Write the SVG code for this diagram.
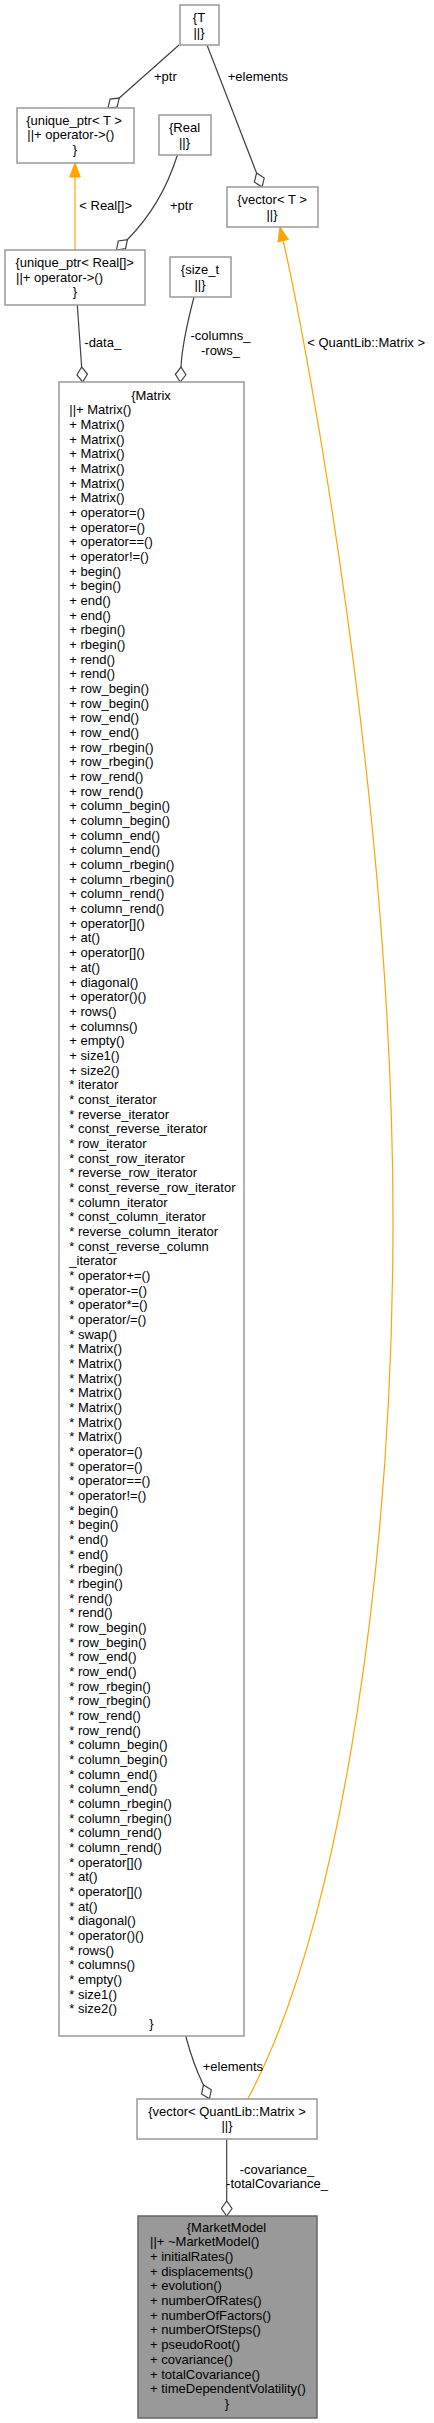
<svg xmlns="http://www.w3.org/2000/svg" width="434" height="2423" viewBox="0 0 434 2423">
<style>
text{font-family:"Liberation Sans",Arial,Helvetica,sans-serif;font-size:13px;fill:#000}
.m{text-anchor:middle}
.box{fill:#fff;stroke:#999;stroke-width:1.5}
.main{fill:#999;stroke:#666;stroke-width:1.5}
.e{fill:none;stroke:#404040;stroke-width:1.2}
.o{fill:none;stroke:#ffa500;stroke-width:1.2}
</style>
<defs>
<marker id="dia" viewBox="-16 -6 17 12" markerWidth="17" markerHeight="12" refX="0" refY="0" orient="auto" markerUnits="userSpaceOnUse" overflow="visible">
<path d="M0,0 L-7.5,-5.3 L-15,0 L-7.5,5.3 Z" fill="#fff" stroke="#404040" stroke-width="1.2"/>
</marker>
<marker id="arr" viewBox="-15 -6 16 12" markerWidth="16" markerHeight="12" refX="0" refY="0" orient="auto" markerUnits="userSpaceOnUse" overflow="visible">
<path d="M0,0 L-14,-5.3 L-14,5.3 Z" fill="#ffa500" stroke="#ffa500" stroke-width="1"/>
</marker>
</defs>

<g id="connectors">
<path class="e" d="M179,45 L108,108" marker-end="url(#dia)"/>
<text x="154" y="80.5">+ptr</text>
<path class="e" d="M207.3,45.7 L262,187" marker-end="url(#dia)"/>
<text x="227.7" y="80.5">+elements</text>
<path class="o" d="M75,250 L75,163" marker-end="url(#arr)"/>
<text x="79.3" y="210">&lt; Real[]&gt;</text>
<path class="e" d="M177.3,155.3 C168,185 152,215 127,240 L116.5,250" marker-end="url(#dia)"/>
<text x="170" y="210">+ptr</text>
<path class="e" d="M77.3,305 L82.7,382" marker-end="url(#dia)"/>
<text x="84.3" y="347">-data_</text>
<path class="e" d="M194,297 C188,320 182,345 181,367 L180.3,382" marker-end="url(#dia)"/>
<text class="m" x="220.5" y="339.5">-columns_</text>
<text class="m" x="220.5" y="355">-rows_</text>
<path class="o" d="M248.3,2098 C345,1915 393,1550 393,1220 C393,800 305,335 283,240 L280,227" marker-end="url(#arr)"/>
<text x="307.3" y="347">&lt; QuantLib::Matrix &gt;</text>
<path class="e" d="M185.7,2036 C190,2052 196,2070 203,2084 L209.5,2098.7" marker-end="url(#dia)"/>
<text x="202.7" y="2070.5">+elements</text>
<path class="e" d="M226.7,2139 L226.7,2216" marker-end="url(#dia)"/>
<text class="m" x="277" y="2173.5">-covariance_</text>
<text class="m" x="277" y="2188">-totalCovariance_</text>
</g>

<g id="node-T">
<rect class="box" x="180" y="5" width="39" height="40"/>
<text class="m" x="199" y="22">{T</text>
<text class="m" x="199" y="36.7">||}</text>
</g>

<g id="node-unique_ptr-T">
<rect class="box" x="17" y="108" width="117" height="55"/>
<text class="m" x="74" y="124.5">{unique_ptr&lt; T &gt;</text>
<text x="27.3" y="139.2">||+ operator-&gt;()</text>
<text class="m" x="75" y="153.8">}</text>
</g>

<g id="node-Real">
<rect class="box" x="159" y="115" width="52" height="40"/>
<text class="m" x="184.5" y="132">{Real</text>
<text class="m" x="184.5" y="146.7">||}</text>
</g>

<g id="node-vector-T">
<rect class="box" x="227" y="187" width="91" height="40"/>
<text class="m" x="272" y="204">{vector&lt; T &gt;</text>
<text class="m" x="272" y="218.7">||}</text>
</g>

<g id="node-unique_ptr-Real">
<rect class="box" x="5" y="250" width="140" height="55"/>
<text class="m" x="74.7" y="267">{unique_ptr&lt; Real[]&gt;</text>
<text x="16" y="281.5">||+ operator-&gt;()</text>
<text class="m" x="75" y="296">}</text>
</g>

<g id="node-size_t">
<rect class="box" x="170" y="257" width="61" height="40"/>
<text class="m" x="200" y="274">{size_t</text>
<text class="m" x="200" y="288.7">||}</text>
</g>

<g id="node-Matrix">
<rect class="box" x="59" y="382" width="185" height="1654"/>
<text class="m" x="151" y="399.7">{Matrix</text>
<text x="69.3" y="399.7">
<tspan x="69.3" dy="14.67">||+ Matrix()</tspan>
<tspan x="69.3" dy="14.67">+ Matrix()</tspan>
<tspan x="69.3" dy="14.67">+ Matrix()</tspan>
<tspan x="69.3" dy="14.67">+ Matrix()</tspan>
<tspan x="69.3" dy="14.67">+ Matrix()</tspan>
<tspan x="69.3" dy="14.67">+ Matrix()</tspan>
<tspan x="69.3" dy="14.67">+ Matrix()</tspan>
<tspan x="69.3" dy="14.67">+ operator=()</tspan>
<tspan x="69.3" dy="14.67">+ operator=()</tspan>
<tspan x="69.3" dy="14.67">+ operator==()</tspan>
<tspan x="69.3" dy="14.67">+ operator!=()</tspan>
<tspan x="69.3" dy="14.67">+ begin()</tspan>
<tspan x="69.3" dy="14.67">+ begin()</tspan>
<tspan x="69.3" dy="14.67">+ end()</tspan>
<tspan x="69.3" dy="14.67">+ end()</tspan>
<tspan x="69.3" dy="14.67">+ rbegin()</tspan>
<tspan x="69.3" dy="14.67">+ rbegin()</tspan>
<tspan x="69.3" dy="14.67">+ rend()</tspan>
<tspan x="69.3" dy="14.67">+ rend()</tspan>
<tspan x="69.3" dy="14.67">+ row_begin()</tspan>
<tspan x="69.3" dy="14.67">+ row_begin()</tspan>
<tspan x="69.3" dy="14.67">+ row_end()</tspan>
<tspan x="69.3" dy="14.67">+ row_end()</tspan>
<tspan x="69.3" dy="14.67">+ row_rbegin()</tspan>
<tspan x="69.3" dy="14.67">+ row_rbegin()</tspan>
<tspan x="69.3" dy="14.67">+ row_rend()</tspan>
<tspan x="69.3" dy="14.67">+ row_rend()</tspan>
<tspan x="69.3" dy="14.67">+ column_begin()</tspan>
<tspan x="69.3" dy="14.67">+ column_begin()</tspan>
<tspan x="69.3" dy="14.67">+ column_end()</tspan>
<tspan x="69.3" dy="14.67">+ column_end()</tspan>
<tspan x="69.3" dy="14.67">+ column_rbegin()</tspan>
<tspan x="69.3" dy="14.67">+ column_rbegin()</tspan>
<tspan x="69.3" dy="14.67">+ column_rend()</tspan>
<tspan x="69.3" dy="14.67">+ column_rend()</tspan>
<tspan x="69.3" dy="14.67">+ operator[]()</tspan>
<tspan x="69.3" dy="14.67">+ at()</tspan>
<tspan x="69.3" dy="14.67">+ operator[]()</tspan>
<tspan x="69.3" dy="14.67">+ at()</tspan>
<tspan x="69.3" dy="14.67">+ diagonal()</tspan>
<tspan x="69.3" dy="14.67">+ operator()()</tspan>
<tspan x="69.3" dy="14.67">+ rows()</tspan>
<tspan x="69.3" dy="14.67">+ columns()</tspan>
<tspan x="69.3" dy="14.67">+ empty()</tspan>
<tspan x="69.3" dy="14.67">+ size1()</tspan>
<tspan x="69.3" dy="14.67">+ size2()</tspan>
<tspan x="69.3" dy="14.67">* iterator</tspan>
<tspan x="69.3" dy="14.67">* const_iterator</tspan>
<tspan x="69.3" dy="14.67">* reverse_iterator</tspan>
<tspan x="69.3" dy="14.67">* const_reverse_iterator</tspan>
<tspan x="69.3" dy="14.67">* row_iterator</tspan>
<tspan x="69.3" dy="14.67">* const_row_iterator</tspan>
<tspan x="69.3" dy="14.67">* reverse_row_iterator</tspan>
<tspan x="69.3" dy="14.67">* const_reverse_row_iterator</tspan>
<tspan x="69.3" dy="14.67">* column_iterator</tspan>
<tspan x="69.3" dy="14.67">* const_column_iterator</tspan>
<tspan x="69.3" dy="14.67">* reverse_column_iterator</tspan>
<tspan x="69.3" dy="14.67">* const_reverse_column</tspan>
<tspan x="69.3" dy="14.67">_iterator</tspan>
<tspan x="69.3" dy="14.67">* operator+=()</tspan>
<tspan x="69.3" dy="14.67">* operator-=()</tspan>
<tspan x="69.3" dy="14.67">* operator*=()</tspan>
<tspan x="69.3" dy="14.67">* operator/=()</tspan>
<tspan x="69.3" dy="14.67">* swap()</tspan>
<tspan x="69.3" dy="14.67">* Matrix()</tspan>
<tspan x="69.3" dy="14.67">* Matrix()</tspan>
<tspan x="69.3" dy="14.67">* Matrix()</tspan>
<tspan x="69.3" dy="14.67">* Matrix()</tspan>
<tspan x="69.3" dy="14.67">* Matrix()</tspan>
<tspan x="69.3" dy="14.67">* Matrix()</tspan>
<tspan x="69.3" dy="14.67">* Matrix()</tspan>
<tspan x="69.3" dy="14.67">* operator=()</tspan>
<tspan x="69.3" dy="14.67">* operator=()</tspan>
<tspan x="69.3" dy="14.67">* operator==()</tspan>
<tspan x="69.3" dy="14.67">* operator!=()</tspan>
<tspan x="69.3" dy="14.67">* begin()</tspan>
<tspan x="69.3" dy="14.67">* begin()</tspan>
<tspan x="69.3" dy="14.67">* end()</tspan>
<tspan x="69.3" dy="14.67">* end()</tspan>
<tspan x="69.3" dy="14.67">* rbegin()</tspan>
<tspan x="69.3" dy="14.67">* rbegin()</tspan>
<tspan x="69.3" dy="14.67">* rend()</tspan>
<tspan x="69.3" dy="14.67">* rend()</tspan>
<tspan x="69.3" dy="14.67">* row_begin()</tspan>
<tspan x="69.3" dy="14.67">* row_begin()</tspan>
<tspan x="69.3" dy="14.67">* row_end()</tspan>
<tspan x="69.3" dy="14.67">* row_end()</tspan>
<tspan x="69.3" dy="14.67">* row_rbegin()</tspan>
<tspan x="69.3" dy="14.67">* row_rbegin()</tspan>
<tspan x="69.3" dy="14.67">* row_rend()</tspan>
<tspan x="69.3" dy="14.67">* row_rend()</tspan>
<tspan x="69.3" dy="14.67">* column_begin()</tspan>
<tspan x="69.3" dy="14.67">* column_begin()</tspan>
<tspan x="69.3" dy="14.67">* column_end()</tspan>
<tspan x="69.3" dy="14.67">* column_end()</tspan>
<tspan x="69.3" dy="14.67">* column_rbegin()</tspan>
<tspan x="69.3" dy="14.67">* column_rbegin()</tspan>
<tspan x="69.3" dy="14.67">* column_rend()</tspan>
<tspan x="69.3" dy="14.67">* column_rend()</tspan>
<tspan x="69.3" dy="14.67">* operator[]()</tspan>
<tspan x="69.3" dy="14.67">* at()</tspan>
<tspan x="69.3" dy="14.67">* operator[]()</tspan>
<tspan x="69.3" dy="14.67">* at()</tspan>
<tspan x="69.3" dy="14.67">* diagonal()</tspan>
<tspan x="69.3" dy="14.67">* operator()()</tspan>
<tspan x="69.3" dy="14.67">* rows()</tspan>
<tspan x="69.3" dy="14.67">* columns()</tspan>
<tspan x="69.3" dy="14.67">* empty()</tspan>
<tspan x="69.3" dy="14.67">* size1()</tspan>
<tspan x="69.3" dy="14.67">* size2()</tspan>
</text>
<text class="m" x="151.5" y="2028">}</text>
</g>

<g id="node-vector-Matrix">
<rect class="box" x="137" y="2099" width="180" height="40"/>
<text class="m" x="227" y="2115.5">{vector&lt; QuantLib::Matrix &gt;</text>
<text class="m" x="227" y="2130.2">||}</text>
</g>

<g id="node-MarketModel">
<rect class="main" x="138" y="2216" width="179" height="202"/>
<text class="m" x="226.5" y="2231.8">{MarketModel</text>
<text x="150" y="2231.8">
<tspan x="150" dy="14.67">||+ ~MarketModel()</tspan>
<tspan x="150" dy="14.67">+ initialRates()</tspan>
<tspan x="150" dy="14.67">+ displacements()</tspan>
<tspan x="150" dy="14.67">+ evolution()</tspan>
<tspan x="150" dy="14.67">+ numberOfRates()</tspan>
<tspan x="150" dy="14.67">+ numberOfFactors()</tspan>
<tspan x="150" dy="14.67">+ numberOfSteps()</tspan>
<tspan x="150" dy="14.67">+ pseudoRoot()</tspan>
<tspan x="150" dy="14.67">+ covariance()</tspan>
<tspan x="150" dy="14.67">+ totalCovariance()</tspan>
<tspan x="150" dy="14.67">+ timeDependentVolatility()</tspan>
</text>
<text class="m" x="227" y="2407.8">}</text>
</g>
</svg>
